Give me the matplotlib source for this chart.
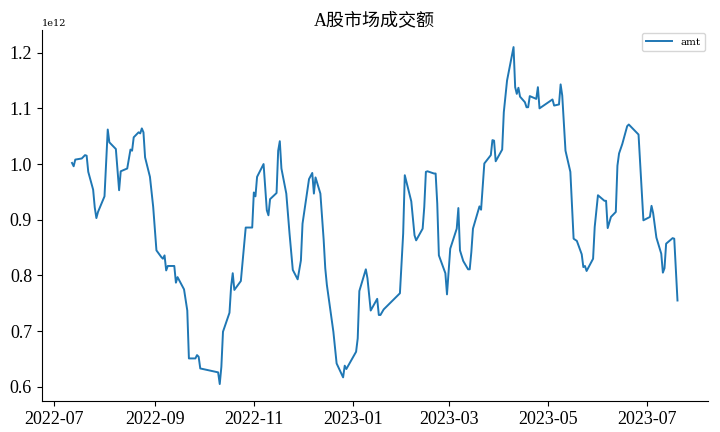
import numpy as np
import pandas as pd
import matplotlib
matplotlib.use("Agg")
import matplotlib.pyplot as plt
import matplotlib.dates as mdates

# daily turnover of the A-share market (unit: 1e12)
dates = [
    "2022-07-12", "2022-07-13", "2022-07-14", "2022-07-18", "2022-07-20", "2022-07-21",
    "2022-07-22", "2022-07-25", "2022-07-26", "2022-07-27", "2022-07-28", "2022-08-01",
    "2022-08-03", "2022-08-04", "2022-08-08", "2022-08-10", "2022-08-11", "2022-08-15",
    "2022-08-17", "2022-08-18", "2022-08-19", "2022-08-22", "2022-08-23", "2022-08-24",
    "2022-08-25", "2022-08-26", "2022-08-29", "2022-08-31", "2022-09-02", "2022-09-05",
    "2022-09-06", "2022-09-07", "2022-09-08", "2022-09-09", "2022-09-13", "2022-09-14",
    "2022-09-15", "2022-09-19", "2022-09-21", "2022-09-22", "2022-09-26", "2022-09-27",
    "2022-09-28", "2022-09-29", "2022-10-10", "2022-10-11", "2022-10-12", "2022-10-13",
    "2022-10-17", "2022-10-18", "2022-10-19", "2022-10-20", "2022-10-24", "2022-10-27",
    "2022-10-31", "2022-11-01", "2022-11-02", "2022-11-03", "2022-11-07", "2022-11-09",
    "2022-11-10", "2022-11-11", "2022-11-15", "2022-11-16", "2022-11-17", "2022-11-18",
    "2022-11-21", "2022-11-23", "2022-11-25", "2022-11-28", "2022-11-30", "2022-12-01",
    "2022-12-05", "2022-12-07", "2022-12-08", "2022-12-09", "2022-12-12", "2022-12-14",
    "2022-12-15", "2022-12-16", "2022-12-20", "2022-12-22", "2022-12-26", "2022-12-27",
    "2022-12-28", "2023-01-03", "2023-01-04", "2023-01-05", "2023-01-09", "2023-01-10",
    "2023-01-12", "2023-01-16", "2023-01-17", "2023-01-18", "2023-01-20", "2023-01-30",
    "2023-02-01", "2023-02-02", "2023-02-06", "2023-02-08", "2023-02-09", "2023-02-13",
    "2023-02-14", "2023-02-15", "2023-02-16", "2023-02-20", "2023-02-21", "2023-02-22",
    "2023-02-23", "2023-02-27", "2023-02-28", "2023-03-02", "2023-03-06", "2023-03-07",
    "2023-03-08", "2023-03-10", "2023-03-13", "2023-03-14", "2023-03-15", "2023-03-16",
    "2023-03-20", "2023-03-21", "2023-03-23", "2023-03-27", "2023-03-28", "2023-03-29",
    "2023-03-30", "2023-04-03", "2023-04-04", "2023-04-06", "2023-04-10", "2023-04-11",
    "2023-04-12", "2023-04-13", "2023-04-14", "2023-04-17", "2023-04-18", "2023-04-19",
    "2023-04-20", "2023-04-24", "2023-04-25", "2023-04-26", "2023-05-04", "2023-05-05",
    "2023-05-08", "2023-05-09", "2023-05-10", "2023-05-12", "2023-05-15", "2023-05-17",
    "2023-05-19", "2023-05-22", "2023-05-23", "2023-05-24", "2023-05-25", "2023-05-29",
    "2023-05-30", "2023-06-01", "2023-06-05", "2023-06-06", "2023-06-07", "2023-06-09",
    "2023-06-12", "2023-06-13", "2023-06-14", "2023-06-16", "2023-06-19", "2023-06-20",
    "2023-06-26", "2023-06-29", "2023-07-03", "2023-07-04", "2023-07-05", "2023-07-07",
    "2023-07-10", "2023-07-11", "2023-07-12", "2023-07-13", "2023-07-17", "2023-07-18",
    "2023-07-19", "2023-07-20",
]
amt = [
    1.002, 0.996, 1.008, 1.010, 1.016, 1.015,
    0.986, 0.954, 0.922, 0.903, 0.914, 0.942,
    1.062, 1.039, 1.027, 0.953, 0.987, 0.992,
    1.026, 1.024, 1.048, 1.057, 1.055, 1.064,
    1.057, 1.012, 0.977, 0.923, 0.845, 0.833,
    0.830, 0.836, 0.809, 0.817, 0.817, 0.787,
    0.797, 0.775, 0.737, 0.651, 0.651, 0.657,
    0.654, 0.633, 0.626, 0.605, 0.636, 0.699,
    0.733, 0.780, 0.804, 0.774, 0.790, 0.886,
    0.886, 0.949, 0.942, 0.977, 1.000, 0.917,
    0.908, 0.937, 0.948, 1.024, 1.041, 0.992,
    0.947, 0.875, 0.810, 0.793, 0.827, 0.893,
    0.973, 0.984, 0.947, 0.976, 0.947, 0.865,
    0.813, 0.783, 0.699, 0.642, 0.617, 0.638,
    0.632, 0.663, 0.687, 0.772, 0.811, 0.795,
    0.737, 0.758, 0.729, 0.729, 0.739, 0.768,
    0.875, 0.980, 0.933, 0.872, 0.863, 0.884,
    0.923, 0.986, 0.987, 0.983, 0.983, 0.929,
    0.836, 0.804, 0.766, 0.848, 0.884, 0.921,
    0.845, 0.826, 0.811, 0.811, 0.842, 0.884,
    0.924, 0.918, 1.001, 1.016, 1.043, 1.042,
    1.005, 1.026, 1.093, 1.150, 1.210, 1.138,
    1.126, 1.137, 1.121, 1.111, 1.102, 1.102,
    1.122, 1.117, 1.138, 1.100, 1.116, 1.105,
    1.107, 1.143, 1.123, 1.024, 0.986, 0.866,
    0.862, 0.838, 0.815, 0.817, 0.808, 0.830,
    0.887, 0.944, 0.934, 0.934, 0.885, 0.905,
    0.914, 0.997, 1.019, 1.036, 1.068, 1.071,
    1.053, 0.899, 0.905, 0.925, 0.912, 0.868,
    0.839, 0.805, 0.813, 0.857, 0.867, 0.866,
    0.810, 0.755,
]

df = pd.DataFrame({"amt": np.array(amt) * 1e12}, index=pd.to_datetime(dates))

fig = plt.figure(figsize=(7.2, 4.32), dpi=100)
ax = fig.add_axes([0.058, 0.072, 0.925, 0.858])
ax.plot(df.index, df["amt"], color="#1f77b4", linewidth=1.4, label="amt")

ax.set_title("A股市场成交额", family=["Liberation Serif", "Noto Sans CJK SC"], fontsize=13, pad=4)
ax.xaxis.set_major_locator(mdates.MonthLocator(bymonth=[1, 3, 5, 7, 9, 11]))
ax.xaxis.set_major_formatter(mdates.DateFormatter("%Y-%m"))
for lab in ax.get_xticklabels() + ax.get_yticklabels():
    lab.set_family("Liberation Serif")
    lab.set_fontsize(13)
ax.yaxis.get_offset_text().set_family("DejaVu Serif")
ax.yaxis.get_offset_text().set_fontsize(7)

ax.spines["top"].set_visible(False)
ax.spines["right"].set_visible(False)

ax.legend(loc="upper right", prop={"family": "DejaVu Serif", "size": 7.5},
          handlelength=2.5, borderaxespad=0.3)

fig.savefig("out.png", dpi=100)
